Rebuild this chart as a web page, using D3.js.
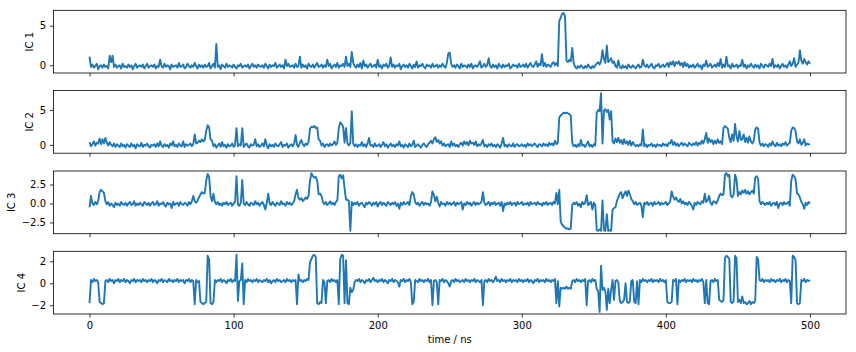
<!DOCTYPE html>
<html>
<head>
<meta charset="utf-8">
<script src="https://cdn.jsdelivr.net/npm/d3@7"></script>
<style>
body { margin: 0; background: #fff; }
svg text { font-family: "DejaVu Sans", sans-serif; font-size: 10px; fill: #000; }
</style>
</head>
<body>
<svg id="fig" width="856" height="352"></svg>
<script>

// one value per ns, t = 0 .. 500
var ic1 = [
 1.1,-0.2,0.1,-0.3,-0.1,0.2,-0.5,-0.1,0,-0.3,0.1,-0.2,-0.1,-0.4,1.2,0.4,1.2,-0.2,0.1,-0.3,
 -0.1,0,-0.4,0.2,-0.2,-0.1,-0.3,0.1,-0.2,0,-0.5,-0.1,0.2,-0.3,-0.1,0,-0.2,0.1,-0.4,-0.1,
 0.2,-0.3,-0.1,0,-0.2,0.1,-0.4,-0.1,-0.2,0.7,-0.1,-0.3,0.2,-0.2,0,-0.1,-0.5,0.1,-0.2,-0.1,
 0,-0.3,0.3,-0.2,-0.1,0.1,-0.4,-0.2,0.2,-0.1,-0.3,0,-0.2,0.3,-0.1,-0.4,0.1,-0.2,0,-0.3,
 0.1,-0.2,-0.1,0.3,-0.4,-0.1,0.2,-0.3,2.7,-0.2,0,-0.5,0.1,-0.1,-0.3,0.2,-0.2,0,-0.1,-0.3,
 0.1,-0.2,-0.4,0,-0.1,0.2,-0.3,-0.1,0,-0.2,0.1,-0.4,-0.1,0.2,-0.2,0,-0.3,0.1,-0.1,-0.2,
 0,-0.3,0.2,-0.1,-0.4,0.1,-0.2,0,-0.1,0.3,-0.3,-0.1,0.1,-0.2,0,-0.4,0.7,-0.1,0.2,-0.2,
 -0.1,0,-0.3,0.2,-0.2,-0.1,1.1,-0.3,0.1,-0.2,0,-0.4,0.2,-0.1,-0.2,0.1,-0.3,0,0.3,-0.2,
 -0.1,0.1,-0.3,0,-0.2,0.7,-0.1,0.2,-0.4,-0.1,0.1,-0.2,0.3,-0.3,0,-0.1,0.2,-0.2,1.1,-0.1,
 0.2,-0.2,1.7,0.3,-0.1,-0.3,0.1,-0.2,0.3,-0.4,0.6,-0.1,0.1,-0.3,0,0.2,-0.2,-0.1,0.1,-0.3,
 0.7,-0.2,0,-0.4,0.1,-0.1,0.2,-0.3,-0.1,1.0,-0.2,0.1,-0.3,0,-0.1,0.2,-0.5,-0.1,0.1,-0.2,
 0,-0.3,0.2,-0.1,-0.4,0.1,-0.2,0.5,-0.3,0,-0.1,0.2,-0.2,-0.4,0.1,-0.1,0,-0.3,0.2,-0.2,
 -0.1,0.1,-0.3,0,-0.2,0.2,-0.1,-0.3,0.3,1.5,1.6,0.2,-0.2,0,-0.3,0.1,-0.1,-0.4,0.2,-0.2,
 0,-0.1,-0.3,0.1,-0.2,0.2,-0.4,-0.1,0,-0.2,0.1,0.5,-0.3,-0.1,0.2,-0.2,0,0.9,-0.1,-0.3,
 0.1,-0.2,0,-0.4,0.2,-0.1,-0.3,0.1,-0.2,0,-0.1,0.2,-0.4,-0.2,0.1,-0.1,0,-0.3,0.2,-0.2,
 -0.1,0.1,-0.2,0.2,-0.3,0,0.3,-0.1,-0.2,0.1,0.5,-0.2,0.2,0,1.4,-0.1,0.3,-0.2,0.1,0,
 -0.2,0.2,0.4,0,0.3,-0.1,5.6,6.0,6.5,6.6,6.2,0.6,0.4,0.7,0.5,2.2,0.3,-0.2,-0.4,-0.1,
 -0.3,0,-0.2,-0.4,-0.1,-0.3,0.1,-0.2,-0.4,-0.1,-0.3,0,0.2,0.4,0.1,0.5,1.9,0.8,0.3,2.5,
 0.4,0.6,0.9,0.3,0.5,-0.1,-0.3,0.6,-0.2,-0.4,0,-0.3,-0.1,-0.4,0.1,-0.2,-0.3,0,-0.2,-0.4,
 -0.1,0.1,-0.3,-0.2,0.7,0,-0.2,0.1,-0.3,-0.1,0.2,-0.2,-0.4,0,-0.1,0.2,-0.3,-0.1,0.1,-0.2,
 0,0.3,-0.2,0.4,0.1,0.5,-0.1,0.4,0.2,0.5,0,0.3,-0.2,0.4,-0.1,0.2,-0.3,0,-0.2,0.1,
 -0.3,-0.1,0.2,-0.2,0,-0.5,0.1,-0.1,0.6,-0.2,0,0.2,-0.3,-0.1,0.1,-0.2,0.3,-0.1,0.8,-0.3,
 0.1,-0.2,1.1,-0.1,0,-0.4,0.2,-0.2,-0.1,0.1,-0.3,0,-0.1,0.7,-0.2,0.1,-0.4,0,-0.2,0.2,
 -0.1,-0.3,0.1,-0.2,0,-0.4,0.2,-0.1,-0.3,0.1,0,-0.2,0.2,-0.1,0.8,-0.3,0,-0.2,0.1,-0.4,
 -0.1,0.2,-0.2,0,-0.3,0.1,0.5,-0.1,0.2,0.9,-0.2,0.1,0.3,1.9,0.6,0.2,0.8,0.4,0.1,0.5,
 0.2
];

var ic2 = [
 0.4,-0.2,0.1,0.5,-0.1,0.3,0.2,0.9,0.1,0.8,0.2,1.0,0.3,-0.1,0.4,0,-0.2,0.2,-0.3,0.1,
 -0.1,-0.3,0.2,-0.2,0,-0.4,0.1,-0.1,-0.3,0.2,-0.2,0,-0.5,0.1,-0.1,-0.2,0.3,-0.3,0,-0.1,
 0.2,-0.2,-0.4,0,-0.1,0.1,-0.3,0.2,-0.2,0.5,-0.1,-0.3,0.1,-0.2,0,-0.4,0.2,-0.1,0.5,-0.2,
 0,-0.3,0.2,-0.1,-0.2,0.5,-0.3,0.1,-0.1,0,0.2,-0.2,0.1,1.5,0.2,0.3,0.6,0.4,0.8,0.5,
 0.7,2.0,2.8,2.5,0.8,0.6,-0.2,0.1,-0.4,-0.1,0.2,-0.3,0.4,-0.2,0,-0.4,0.1,-0.2,-0.1,0.2,
 -0.3,0,2.4,-0.2,0.1,-0.1,2.4,-0.3,0,0.2,-0.2,-0.4,0.1,-0.1,0,0.8,-0.2,0.1,-0.3,-0.1,
 0.2,-0.2,0.8,-0.1,-0.5,0.1,-0.2,0,-0.3,0.2,-0.1,-0.2,0.1,0.4,-0.3,0,-0.1,0.2,-0.4,-0.1,
 0.1,-0.2,0.2,1.4,0,-0.3,0.3,0.7,0.1,-0.2,0.2,0,0.4,2.3,2.6,2.5,2.7,2.4,2.5,0.8,
 0.6,-0.1,0.2,-0.3,0,0.1,-0.2,0.2,-0.1,0.1,0.5,0,0.3,2.4,3.2,3.0,2.6,0.3,2.4,0.2,
 -0.1,0.3,4.8,0.2,-0.2,0.1,-0.3,0,-0.1,0.4,-0.2,0.1,-0.3,0.2,1.0,-0.1,0,-0.3,0.2,-0.2,
 -0.1,0.1,-0.3,0,0.4,-0.2,0.1,-0.4,-0.1,0.2,-0.2,0,-0.3,0.1,-0.1,0.5,-0.2,0,-0.4,0.1,
 -0.1,-0.3,0.2,-0.2,0,0.6,-0.3,-0.1,0.1,-0.2,-0.4,0,0.2,-0.1,-0.3,0.1,0.3,0.6,0.2,0.8,
 1.1,0.4,0.7,0.2,0.5,-0.1,0.2,-0.2,0,0.1,-0.3,0.5,-0.1,0.2,-0.2,0,-0.3,0.1,0.3,-0.1,
 0.5,0.1,0.4,-0.1,0.6,0.2,0.3,0,0.5,-0.2,0.1,-0.1,0.2,0.7,-0.2,0,-0.3,0.1,-0.1,0.2,
 -0.2,0,-0.3,0.1,-0.1,-0.4,0.2,1.0,-0.2,0,-0.3,0.1,-0.1,-0.2,0.2,-0.3,0,0.1,-0.2,-0.1,
 0.1,-0.2,0,-0.3,0.2,-0.1,0.1,-0.2,0,0.2,-0.1,-0.3,0.1,0,-0.2,0.2,-0.1,0.1,-0.2,0.3,
 0,0.2,-0.1,0.6,0.1,0.3,3.9,4.2,4.4,4.6,4.5,4.6,4.5,4.4,4.2,0.3,-0.2,0,-0.3,0.1,
 -0.2,0.7,-0.1,0,-0.3,0.1,0.5,-0.2,0,-0.3,0.1,-0.1,4.6,5.0,4.8,7.4,0.2,4.9,5.1,4.7,
 5.0,3.6,4.8,0.5,0.2,0.9,0.4,1.0,0.3,0.7,0.1,0.8,0.2,0.5,0,0.6,-0.1,0.4,0.1,-0.2,
 0,-0.2,0.1,-0.1,2.2,-0.2,0.1,-0.3,0,-0.1,0.2,-0.2,0,-0.3,0.1,-0.1,0,-0.2,0.2,-0.1,
 0.1,-0.2,0.3,0.2,0.7,0,0.4,-0.1,0.2,-0.2,0.1,0.3,-0.1,0.2,0,-0.2,0.3,0.1,-0.1,0.2,
 0,0.4,-0.1,0.3,0.1,0.6,0.2,0.8,1.7,0.3,0.9,0.4,0.7,0.1,0.6,0.2,0.8,0.3,0.5,0.1,
 2.4,2.7,2.5,2.3,1.0,0.4,1.5,0.6,3.0,1.2,0.5,2.0,0.7,0.8,1.5,0.4,1.0,0.3,1.2,0.5,
 0.2,0.6,2.2,2.5,2.3,0.3,-0.1,0.2,-0.2,0.1,0,-0.3,0.2,-0.1,0.5,0,-0.2,0.3,-0.1,0.1,
 -0.2,0.2,0,0.4,-0.1,0.1,0.3,2.0,2.5,2.4,2.0,0.5,0.2,0.8,0,0.3,0.8,-0.1,0.2,0.1,
 0
];

var ic3 = [
 -0.5,1.0,0,-0.2,0.2,-0.1,0.3,1.5,1.8,1.6,1.4,0.3,-0.1,0.2,-0.3,0,-0.2,-0.5,0.1,-0.2,
 0,-0.3,0.2,-0.1,-0.2,0.1,-0.3,0,0.2,-0.2,-0.1,0.3,-0.3,0,-0.2,0.1,-0.1,-0.3,0.2,0,
 -0.2,0.1,-0.3,0,0.2,-0.2,-0.1,0.3,-0.3,0,-0.1,0.2,-0.2,-0.4,0.1,-0.1,0,-0.6,0.2,-0.2,
 0,0.1,-0.3,0.2,-0.1,-0.2,0.1,0,-0.3,0.2,-0.1,0.3,1.0,0.3,0.1,0.4,0.8,1.2,1.5,1.3,
 1.4,3.0,3.9,3.5,1.0,0.3,1.3,0.2,-0.1,0.2,-0.2,0,-0.3,0.1,-0.1,0.2,-0.2,0,0.1,-0.3,
 0,0.2,3.6,-0.1,-0.3,0.1,3.1,0,-0.2,0.2,-0.1,-0.3,0.1,0,-0.2,0.3,-0.1,0.1,-0.3,0,
 0.2,-0.2,-0.8,0.1,1.3,0,-0.2,0.2,-0.1,-0.3,0.1,0,-0.2,0.3,-0.1,0,-0.3,0.2,-0.1,0.1,
 -0.2,0,0.3,1.2,1.8,0.7,0.5,0.7,0.3,0.5,0.8,0.6,1.0,3.0,4.0,3.6,3.4,3.5,3.0,1.2,
 1.3,1.0,0.2,-0.1,0.2,-0.2,0,0.3,-0.1,0.1,-0.2,0.2,0.4,3.6,3.8,3.3,3.7,2.0,0.5,0.5,
 0.3,-3.6,0.2,-0.2,0.1,-0.1,0.2,-0.3,0,0.1,-0.2,-0.5,0.1,-0.1,0.2,0,-0.3,0.1,-0.1,0.2,
 -0.4,0,0.2,-0.2,0.1,-0.1,-0.3,0.2,0,-0.2,0.1,-0.1,0.2,-0.3,0,-0.7,0.1,-0.2,0.2,-0.1,
 0,0.2,-0.2,1.0,1.5,1.2,0.2,-0.1,0.1,-0.3,0,0.2,-0.2,0.1,-0.1,0,-0.3,0.2,1.6,1.1,
 0.3,0.9,0.1,-0.4,0.2,-0.1,0,-0.3,0.2,-0.1,0.1,-0.2,0,0.2,-0.3,0.1,-0.1,0,0.2,-0.8,
 0,-0.2,0.2,-0.1,0.1,-0.3,0,0.2,-0.2,0.1,-0.1,0,0.2,1.5,0.1,-0.2,0,0.2,-0.3,0.1,
 -0.1,0.2,-0.2,0,0.1,-0.3,0.2,-1.0,0,-0.2,0.1,-0.1,0.2,-0.2,0,0.1,-0.3,0.2,-0.1,0,
 0.2,-0.2,0,-0.1,0.1,-0.3,0.2,-0.1,0,0.1,-0.2,0.2,-0.1,0,-0.3,0.1,-0.1,0.2,-0.2,0,
 0.1,-0.2,0.2,0,1.4,-0.1,1.8,-2.4,-2.8,-3.0,-3.2,-3.3,-3.3,-3.4,-3.3,-0.2,0.1,-0.1,0.2,-0.3,
 0,-0.5,0.2,-0.1,0.1,1.1,-0.2,0,0.2,-0.8,0.1,-0.2,-3.5,-3.6,-3.4,-3.6,0.4,-3.5,-3.6,-1.4,
 -3.6,-3.5,-3.6,-0.8,-0.6,-0.5,0.3,0.8,1.3,1.5,0.7,1.2,1.6,1.0,1.7,1.2,0.6,0.3,-0.1,0.2,
 -0.2,0,0.1,-0.3,-1.8,0.1,-0.1,0.2,-0.2,0,0.1,-0.3,0.2,-0.1,0,0.2,-0.2,0.1,-0.1,0,
 0.2,-0.2,0,0.3,1.6,0.9,0.5,0.8,0.4,0.2,0.6,0,0.3,-0.1,0.1,-0.2,0.2,0,-0.3,-0.8,
 0.1,-0.2,0.2,0,-0.1,0.3,0.1,1.3,0.2,0.4,1.0,0.1,-0.2,0.3,0.2,0,0.4,1.0,1.3,1.1,
 1.2,3.8,4.0,3.6,3.8,1.0,0.8,1.2,3.8,3.2,1.0,1.5,1.2,1.7,1.4,1.8,1.3,1.6,1.2,1.5,
 1.7,1.3,3.4,3.6,3.2,0.3,-0.1,0.2,0,-0.2,0.1,-0.1,0.2,-0.3,0,0.1,-0.2,0.2,-0.6,0,
 0.1,-0.2,0.2,-0.1,0,0.2,-0.3,3.0,3.8,3.6,3.2,1.3,1.2,0.8,0.2,-0.1,-0.7,0.1,-0.2,0.2,
 0
];

var ic4 = [
 -1.8,0.3,0.1,0.4,0.2,0.3,0.1,-1.7,-1.8,-1.9,-1.8,0.2,0.3,0.1,0.4,0.2,0.3,0,0.3,0.2,
 0.4,0.1,0.3,0.2,0.4,0.1,0.3,0.2,0,0.3,0.2,0.4,0.1,0.3,0.2,0.3,0.1,0.4,0.2,0.3,
 0.1,0.3,0.2,0.4,0.1,0.3,0.2,0,0.3,0.2,0.4,0.1,0.3,0.2,0.1,0.4,0.2,0.3,0.1,0.3,
 0.2,0.4,0.1,0.3,0.2,0.3,0,0.3,0.2,0.4,0.1,0.3,0.2,-1.9,0.3,0.1,0.2,-1.7,-1.8,-1.9,
 -1.8,-1.7,2.5,2.2,-1.8,-1.9,-1.7,0.3,0.1,0.3,0.2,0.4,0.1,0.3,0.2,0,0.3,0.2,0.4,0.1,
 0.3,0.2,2.6,-1.6,0.2,0.3,1.8,-1.9,0.3,0.1,0.4,0.2,0.3,0.1,0.3,0.2,0.4,0.1,0.3,0.2,
 0.1,0.3,0.2,0.4,0.1,0.3,0,0.2,0.3,0.1,0.4,0.2,0.3,0.1,0.2,0.3,0.1,0.4,0.2,0.3,
 0.1,0.3,0.2,0.3,-1.9,0.8,0.2,0.3,0.1,0.3,0.2,0.4,0.3,1.9,2.2,2.5,2.6,2.4,-1.8,-1.9,
 -1.7,-1.8,0.3,0.1,-1.8,0.2,0.3,0.1,0.4,0.2,0.3,0.1,0.3,-1.9,2.2,2.6,2.5,-1.8,2.1,-1.8,
 -1.9,-0.4,-0.8,-0.6,0.1,0.3,0.2,0.4,0.1,0.3,0.2,0,0.3,0.2,0.4,0.1,0.3,0.5,0.2,0.3,
 0.1,0.3,0.2,0.4,0.1,0.3,0.2,0,0.3,0.2,0.4,0.1,0.3,0.2,0.1,-0.3,0.3,0.2,0.4,0.1,
 0.3,0.2,0.4,0.1,-1.9,-1.7,0.3,0.2,0.1,0.4,0.2,0.3,0.1,0.3,0.2,0.4,0.1,0.3,-2.0,0.2,
 0.3,0.1,-1.9,0.3,0.2,0.4,0.1,0.3,0.2,0,-0.3,0.2,0.3,0.1,0.4,0.2,0.3,0.1,0.2,0.3,
 0.1,0.4,0.2,0.3,0.1,0.3,0.2,0.4,0.1,0.3,0.2,0.1,0.3,-2.0,0.2,0.3,0.1,0.4,0.2,0.3,
 0.1,0.3,0.6,0.2,0.3,0.1,0.4,0.2,0.3,0.1,0.3,0.2,0.4,0.1,0.3,0.2,0.3,0.1,0.4,0.2,
 0.3,0.1,0.3,0.2,0.4,0.1,0.3,0.2,0,0.3,0.2,0.4,0.1,0.3,0.2,0.3,0.1,0.4,0.2,0.3,
 0.1,0.3,0.2,0.4,-1.8,0.2,-2.1,-0.4,-0.5,-0.4,-0.5,-0.3,-0.5,-0.4,-0.5,0.2,0.3,0.1,0.4,0.2,
 0.3,0.1,0.3,0.2,0.4,-2.0,0.2,0.3,0.1,0.4,0.2,0.3,-0.5,-0.7,-2.6,1.6,-0.6,-0.4,-0.7,-2.4,
 -0.5,-1.8,-0.6,0.3,-1.5,0.2,0.3,0.1,-1.6,-1.8,-1.7,-1.5,0,-1.7,-1.8,-1.6,0.2,0.3,-1.7,-1.8,
 0.2,-1.9,0.3,0.1,0.4,0.2,0.3,0.1,0.3,0.2,0.4,0.1,0.3,0.2,0.3,0.1,0.4,0.2,0.3,0.1,
 0.3,-1.7,-1.8,-1.8,-1.7,0.3,0.2,0.4,-1.9,0.3,0.1,0.3,0.2,0.4,0.1,0.3,0.2,0.3,0.1,0.4,
 0.2,0.3,0.1,0.3,0.2,0.4,0.1,-1.8,0.3,-1.8,-1.9,0.2,0.3,0.1,0.4,0.2,0.3,-1.5,-1.6,-1.7,
 -1.5,2.3,2.5,2.4,2.2,-1.7,-1.8,-1.6,2.5,2.3,-1.7,-1.5,-1.8,-1.2,-1.8,-1.7,-1.9,-1.8,-1.6,-1.9,
 -1.7,-1.8,-1.6,2.4,2.2,0.3,0.2,0.4,0.1,0.3,0.2,0.3,0.1,0.4,0.2,0.3,0.1,0.3,0.2,0.4,
 0.1,0.3,0.2,0.4,0.1,0.3,0.2,-1.8,2.5,2.4,2.1,-1.8,-1.9,-1.8,0.3,0.2,0.4,0.1,0.3,0.2,
 0.3
];

var series = [ic1, ic2, ic3, ic4];
var labels = ["IC 1", "IC 2", "IC 3", "IC 4"];
var yDomains = [[-0.97, 6.94], [-1.19, 7.77], [-3.98, 4.28], [-2.79, 2.91]];
var yTicks = [[0, 5], [0, 5], [-2.5, 0, 2.5], [-2, 0, 2]];
var yFormats = ["d", "d", ".1f", "d"];
var xTicks = [0, 100, 200, 300, 400, 500];
var xDomain = [-25, 525];
var dt = 1; // ns per sample

var svg = d3.select("#fig");
var left = 53.5, right = 846, ph = 62.7;
var tops = [10.3, 90.5, 171, 251.3];
var blue = "#1f77b4";

var x = d3.scaleLinear().domain(xDomain).range([left, right]);

series.forEach(function(vals, k) {
    var top = tops[k], bottom = top + ph;
    var y = d3.scaleLinear().domain(yDomains[k]).range([bottom, top]);

    var line = d3.line()
        .x(function(d, i) { return x(i * dt); })
        .y(function(d) { return y(d); });

    // sampled trace is coarser than the original, so a slightly heavier stroke
    svg.append("path")
        .datum(vals)
        .attr("d", line)
        .attr("fill", "none")
        .attr("stroke", blue)
        .attr("stroke-width", 1.9)
        .attr("stroke-linejoin", "round");

    // spines
    svg.append("rect")
        .attr("x", left).attr("y", top)
        .attr("width", right - left).attr("height", ph)
        .attr("fill", "none")
        .attr("stroke", "#000")
        .attr("stroke-width", 0.8);

    var ya = svg.append("g")
        .attr("transform", "translate(" + left + ",0)")
        .call(d3.axisLeft(y).tickValues(yTicks[k]).tickFormat(d3.format(yFormats[k]))
            .tickSize(3.5).tickSizeOuter(0).tickPadding(4));
    ya.select(".domain").remove();
    ya.selectAll("line").attr("stroke", "#000").attr("stroke-width", 0.8);
    ya.selectAll("text").attr("fill", "#000").style("font-size", "10px");

    var xa = svg.append("g")
        .attr("transform", "translate(0," + bottom + ")")
        .call(d3.axisBottom(x).tickValues(xTicks).tickSize(3.5).tickSizeOuter(0).tickPadding(4.4)
            .tickFormat(k == 3 ? d3.format("d") : function() { return ""; }));
    xa.select(".domain").remove();
    xa.selectAll("line").attr("stroke", "#000").attr("stroke-width", 0.8);
    xa.selectAll("text").attr("fill", "#000").style("font-size", "10px");

    // ylabel sits left of the widest tick label
    var minX = d3.min(ya.selectAll(".tick text").nodes(), function(n) { return n.getBBox().x; });
    var lx = left + minX - 6.5, ly = (top + bottom) / 2;
    svg.append("text")
        .attr("transform", "translate(" + lx + "," + ly + ") rotate(-90)")
        .attr("text-anchor", "middle")
        .text(labels[k]);
});

svg.append("text")
    .attr("x", (left + right) / 2)
    .attr("y", 343)
    .attr("text-anchor", "middle")
    .text("time / ns");

</script>
</body>
</html>
